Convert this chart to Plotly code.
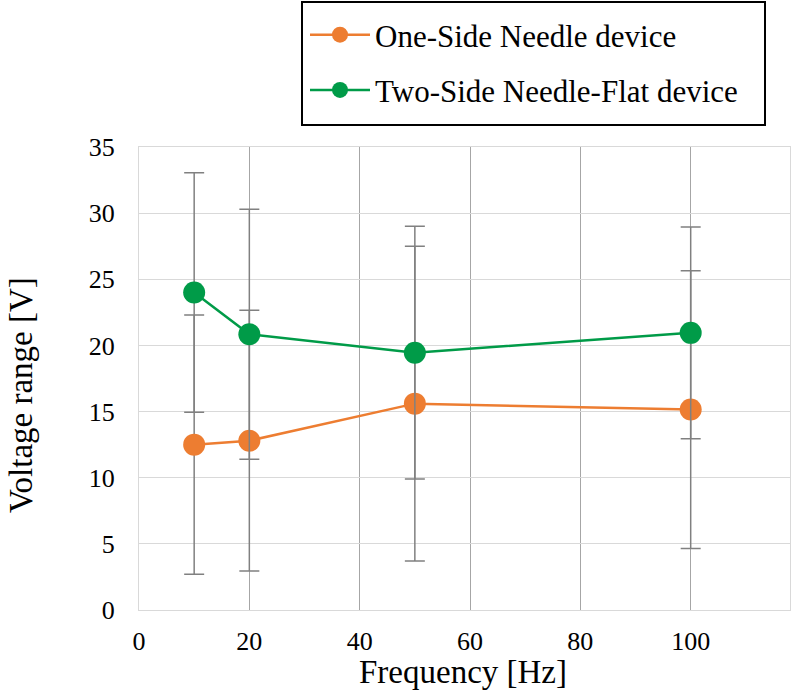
import plotly.graph_objects as go

freq = [10, 20, 50, 100]
one_side = [12.5, 12.8, 15.6, 15.15]
one_side_err = [9.8, 9.85, 11.9, 10.5]
two_side = [24.0, 20.85, 19.45, 20.95]
two_side_err = [9.05, 9.45, 9.55, 8.0]
names = ["One-Side Needle device", "Two-Side Needle-Flat device"]
x_ticks = [0, 20, 40, 60, 80, 100]
y_ticks = [0, 5, 10, 15, 20, 25, 30, 35]

FONT = "Liberation Serif, Times New Roman, serif"
ORANGE = "#ED7D31"
GREEN = "#009B48"
ERR = "#808080"

W, H = 793, 697
L, R, T, B = 139, 790, 147, 610


def px(x):
    return (x - L) / (R - L)


def py(y):
    return (B - y) / (B - T)


fig = go.Figure()
for yv, ev, c, n in [(one_side, one_side_err, ORANGE, names[0]),
                     (two_side, two_side_err, GREEN, names[1])]:
    fig.add_trace(go.Scatter(
        x=freq, y=yv, name=n, mode="lines+markers",
        line=dict(color=c, width=2.5),
        marker=dict(color=c, size=22),
        error_y=dict(type="data", array=ev, visible=True, color=ERR,
                     thickness=1.5, width=10),
        legendgroup=n,
    ))

fig.update_layout(
    width=W, height=H,
    margin=dict(l=L, r=W - R, t=T, b=H - B),
    paper_bgcolor="white", plot_bgcolor="white",
    font=dict(family=FONT, color="black"),
    showlegend=True,
    legend=dict(
        x=px(305), y=py(8), xanchor="left", yanchor="top",
        font=dict(family=FONT, size=31, color="black"),
        bgcolor="rgba(0,0,0,0)", borderwidth=0,
        itemwidth=60, tracegroupgap=12, traceorder="grouped",
    ),
    xaxis=dict(
        range=[0, 118], tickvals=x_ticks, ticktext=[str(v) for v in x_ticks],
        showgrid=True, gridcolor="#A6A6A6", gridwidth=1,
        zeroline=False, showline=True, linecolor="#D9D9D9", linewidth=1,
        mirror=True,
        ticks="outside", ticklen=8, tickcolor="rgba(0,0,0,0)",
        tickfont=dict(family=FONT, size=26, color="black"),
    ),
    yaxis=dict(
        range=[0, 35], tickvals=y_ticks, ticktext=[str(v) for v in y_ticks],
        showgrid=True, gridcolor="#D9D9D9", gridwidth=1,
        zeroline=False, showline=True, linecolor="#D9D9D9", linewidth=1,
        mirror=True,
        ticks="outside", ticklen=18, tickcolor="rgba(0,0,0,0)",
        tickfont=dict(family=FONT, size=26, color="black"),
    ),
    shapes=[dict(type="rect", xref="paper", yref="paper",
                 x0=px(302), x1=px(765), y0=py(125), y1=py(2),
                 line=dict(color="black", width=2), fillcolor="rgba(0,0,0,0)")],
    annotations=[
        dict(text="Voltage range [V]", xref="paper", yref="paper",
             x=px(21), y=py(395), textangle=-90, showarrow=False,
             font=dict(family=FONT, size=33, color="black"),
             xanchor="center", yanchor="middle"),
        dict(text="Frequency [Hz]", xref="paper", yref="paper",
             x=px(463), y=py(672), showarrow=False,
             font=dict(family=FONT, size=33, color="black"),
             xanchor="center", yanchor="middle"),
    ],
)

fig.write_html("out.html",
               config={"displayModeBar": False},
               post_script="document.body.style.margin='0px';")
